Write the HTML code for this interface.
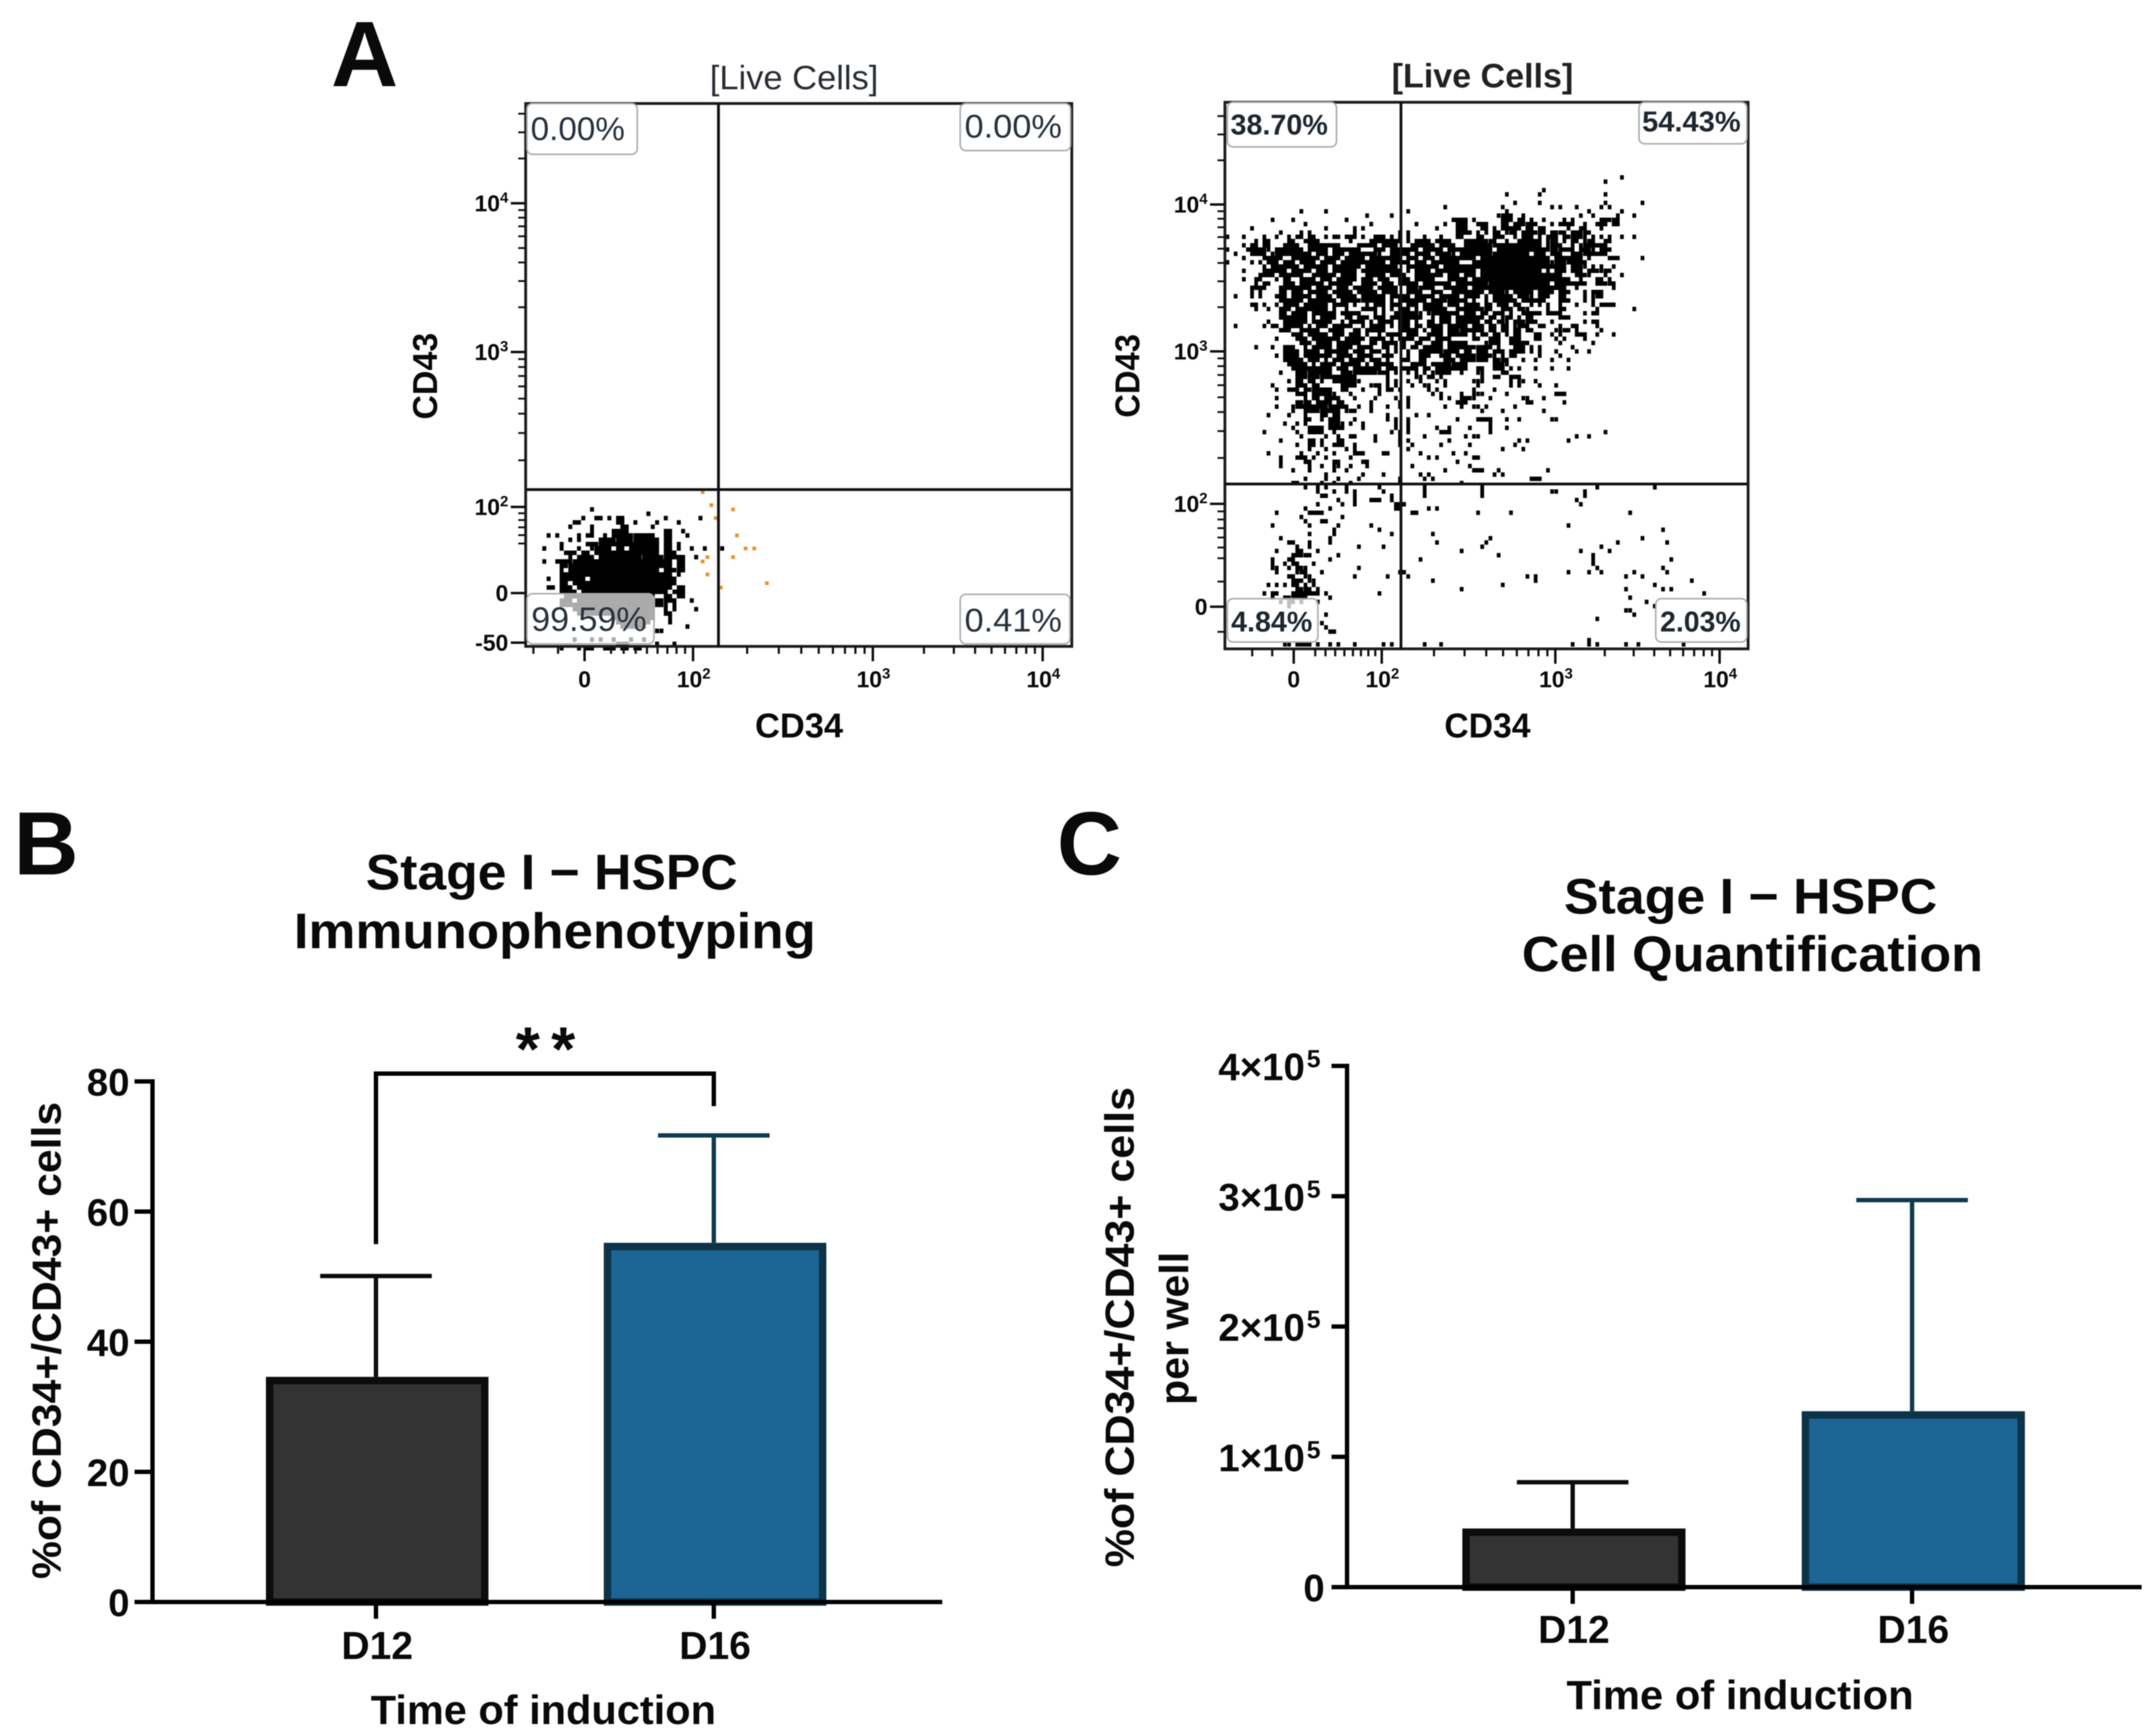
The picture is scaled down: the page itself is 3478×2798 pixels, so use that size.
<!DOCTYPE html>
<html lang="en">
<head>
<meta charset="utf-8">
<title>CD34/CD43 flow cytometry and Stage I HSPC bar charts</title>
<style>
html,body{margin:0;padding:0;background:#fff;}
svg{display:block;}
text{font-family:"Liberation Sans",Arial,sans-serif;fill:#0a0a0a;}
.b{font-weight:700;}
</style>
</head>
<body>
<svg id="figure" xmlns="http://www.w3.org/2000/svg" width="3478" height="2798" viewBox="0 0 3478 2798">
<defs><filter id="soft" x="0" y="0" width="100%" height="100%" color-interpolation-filters="sRGB"><feGaussianBlur stdDeviation="0.9"/></filter></defs>
<rect width="3478" height="2798" fill="#fff"/>
<g id="root" filter="url(#soft)">

<text class="b" x="534" y="139" font-size="150">A</text>
<text class="b" x="22" y="1411" font-size="145">B</text>
<text class="b" x="1705" y="1411" font-size="145">C</text>

<g id="flow-d12"></g>
<g id="flow-d16"></g>

<text x="1145" y="144" font-size="55" textLength="272" lengthAdjust="spacingAndGlyphs" style="fill:#2a2f36">[Live Cells]</text>
<text class="b" x="2245" y="141" font-size="55" textLength="293" lengthAdjust="spacingAndGlyphs" style="fill:#222">[Live Cells]</text>
<text class="b" transform="translate(705,677) rotate(-90)" font-size="56" textLength="140" lengthAdjust="spacingAndGlyphs">CD43</text>
<text class="b" transform="translate(1838,674) rotate(-90)" font-size="56" textLength="135" lengthAdjust="spacingAndGlyphs">CD43</text>
<text class="b" x="1218" y="1190" font-size="56" textLength="142" lengthAdjust="spacingAndGlyphs">CD34</text>
<text class="b" x="2330" y="1190" font-size="56" textLength="139" lengthAdjust="spacingAndGlyphs">CD34</text>

<g><rect x="850" y="167" width="178" height="82" rx="9" fill="#fff" stroke="#aaa" stroke-width="2.5"/><text x="856" y="226" font-size="53" textLength="152" lengthAdjust="spacingAndGlyphs" style="fill:#28323e">0.00%</text></g>
<g><rect x="1549" y="167" width="178" height="76" rx="9" fill="#fff" stroke="#aaa" stroke-width="2.5"/><text x="1556" y="222" font-size="53" textLength="157" lengthAdjust="spacingAndGlyphs" style="fill:#28323e">0.00%</text></g>
<g id="labels-late"></g>

<text class="b" x="590" y="1435" font-size="81" textLength="600" lengthAdjust="spacingAndGlyphs">Stage I − HSPC</text>
<text class="b" x="474" y="1530" font-size="81" textLength="842" lengthAdjust="spacingAndGlyphs">Immunophenotyping</text>
<text class="b" transform="translate(98,2548) rotate(-90)" font-size="66" textLength="770" lengthAdjust="spacingAndGlyphs">%of CD34+/CD43+ cells</text>
<text class="b" x="598" y="2782" font-size="66" textLength="557" lengthAdjust="spacingAndGlyphs">Time of induction</text>
<text class="b" x="832" y="1727" font-size="100" textLength="96" lengthAdjust="spacing">**</text>
<g id="chart-b"></g>

<text class="b" x="2523" y="1474" font-size="81" textLength="602" lengthAdjust="spacingAndGlyphs">Stage I − HSPC</text>
<text class="b" x="2455" y="1567" font-size="81" textLength="744" lengthAdjust="spacingAndGlyphs">Cell Quantification</text>
<text class="b" transform="translate(1829,2529) rotate(-90)" font-size="66" textLength="775" lengthAdjust="spacingAndGlyphs">%of CD34+/CD43+ cells</text>
<text class="b" transform="translate(1917,2267) rotate(-90)" font-size="66" textLength="247" lengthAdjust="spacingAndGlyphs">per well</text>
<text class="b" x="2527" y="2758" font-size="66" textLength="560" lengthAdjust="spacingAndGlyphs">Time of induction</text>
<g id="chart-c"></g>
</g>
</svg>

<script>
/* ---------- bar chart data ---------- */
const barCategories = ['D12', 'D16'];
const barBMeans = [34.6, 55.2];
const barBErrors = [15.5, 16.5];
const barBTicks = [0, 20, 40, 60, 80];
const bracketBLeftLevel = 55;
const bracketBTopLevel = 81.2;
const bracketBRightLevel = 76.2;
const barCMeans = [45000, 135000];
const barCErrors = [35500, 162000];
const barCTicks = [0, 100000, 200000, 300000, 400000];
const barCTickLabels = ['0', '1×10', '2×10', '3×10', '4×10'];

/* ---------- flow cytometry axis data ---------- */
const flowXMajor = [0, 100, 1000, 10000];
const flowXMinor = [-40, -20, 20, 30, 40, 50, 60, 70, 80, 90, 200, 300, 400, 500, 600, 700, 800, 900, 2000, 3000, 4000, 5000, 6000, 7000, 8000, 9000];
const d12YMajor = [-50, 0, 100, 1000, 10000];
const d16YMajor = [0, 100, 1000, 10000];
const d12YMinor = [50, 60, 70, 80, 90, 200, 300, 400, 500, 600, 700, 800, 900, 2000, 3000, 4000, 5000, 6000, 7000, 8000, 9000, 20000, 30000, 40000];
const d16YMinor = [-20, 20, 40, 50, 60, 70, 80, 90, 200, 300, 400, 500, 600, 700, 800, 900, 2000, 3000, 4000, 5000, 6000, 7000, 8000, 9000, 20000, 30000, 40000];

/* ---------- events: [channel level, channel or [from,to] ...] ---------- */
const d12Events = [
[32,15],[31,28],[30,13,[16,17],19,[21,22],32,40],[29,[11,12],[21,22],25,30,35],[28,10,15,[22,23],29],
[27,15,[20,23],[32,33],36],[26,5,7,12,[14,15],18,[20,24],[25,29],[32,33],37],[25,10,12,[17,20],[21,24],[25,30],[32,33]],
[24,8,[14,16],[17,30],[32,33],35],[23,4,8,12,15,[16,19],[21,22],[24,30],[32,33],35,38,41,45],[22,[9,11],[13,14],[16,30],[32,34]],
[21,10,[12,15],[17,26],[27,31],[32,36],39],[20,4,[7,10],[11,33],[35,36]],[19,[8,9],[10,33],[35,36]],[18,8,[10,30],[32,34],[35,36]],
[17,[8,33],35],[16,5,[8,13],[15,34]],[15,[8,9],[11,34]],[14,[5,6],[8,10],[12,33],[35,36]],[13,[8,11],[13,32],[34,36]],
[12,[9,29],[32,33],[35,36]],[11,[8,10],[12,29],[30,31],[32,34],38],[10,[8,29],[30,31],32,34],[9,[11,29],32,34,39],
[8,[12,29],[32,33]],[7,[20,29],33],[6,[21,28],33],[5,[22,27],37],[4,30,31],[2,11,15,17,20,24,27],[1,[21,23],30,34],
[0,8,12,[14,15],[18,20],[22,23],[25,26]]
];
const d12GateX = [40.5, 42.5, 43.5, 47.5, 48.4, 50.4, 52.4, 41.6, 40.5, 47.5, 41.6, 55.3, 44.7];
const d12GateY = [36, 33, 30, 32, 26, 23, 23, 21, 20, 21, 17, 15, 14];
const d16Events = [
[111,96],[110,92],[108,77],[107,68,76,92],[105,70,76,[81],92,101],[104,53,67,79,81,85,91,93],[103,18,24,44,68,88,96],
[102,34,40,66,[67,69],72,86,89,95,99],[101,11,16,29,[55,58],60,[67,69],[71,72],74,77,82,84,[91,93],[94,95]],
[100,19,35,46,53,[56,58],[61,63],[67,68],[70,72],[73,75],79,[81,84],87,[90,92],[94,95]],
[99,6,24,31,33,51,[56,58],[62,63],65,[67,71],[73,74],[76,77],83,[86,87],91],
[98,13,18,20,31,42,44,[56,59],61,63,[65,66],68,[69,70],[72,75],[76,77],[79,80],[81,82],[84,86],[87,88]],
[97,0,4,9,12,15,[17,18],[20,21],24,[26,27],[29,31],33,[36,38],40,42,44,48,52,[56,57],[61,62],[65,67],70,[72,74],76,[78,80],[82,83],[84,86],87,89,91,93,96,99],
[96,7,[9,10],[15,16],[19,22],30,[35,42],44,[46,49],[51,54],[58,63],[64,65],68,[71,76],78,[79,80],82,[84,85],87,[88,89],[92,93]],
[95,4,[6,7],[9,10],[14,17],[20,27],[32,36],[38,41],[45,50],[52,55],[58,64],[65,76],78,[79,81],84,86,[87,92]],
[94,0,[5,9],10,[12,18],[20,24],[26,32],[36,38],[40,46],[48,52],[54,64],[66,78],[79,80],[81,84],[86,88],89,[91,93]],
[93,2,[6,9],11,[12,20],[22,24],[26,28],[30,36],37,[40,42],[43,44],[46,49],[51,54],55,[57,64],[65,73],[75,77],[79,81],[84,86],[87,92]],
[92,4,[9,13],[16,22],[24,27],[29,33],[35,42],[44,46],[48,50],[52,60],[62,78],[80,86],88,[93,95],101],
[91,0,6,8,[10,12],[14,16],[18,21],[23,26],[28,38],[40,44],[46,48],[50,56],[60,78],79,[80,82],[83,87]],
[90,9,[11,17],[19,24],[26,32],[34,41],[44,51],[53,82],[84,86],87,89,91,94],
[89,4,[9,14],[16,20],[22,24],[26,31],[33,42],44,[46,49],[51,60],[62,76],78,[80,82],[84,86],[88,90],91,[92,93]],
[88,[8,11],[13,18],[21,26],[28,31],[34,38],[40,43],[46,52],[54,56],[58,60],[62,81],[85,87],88,92,96],
[87,4,[7,8],12,[14,15],[18,21],[23,25],[27,31],[33,35],[37,39],[42,44],[46,50],[54,58],[60,83],86,[90,91],93],
[86,7,[9,10],[14,16],[18,23],[25,30],[33,36],[38,40],[42,46],[48,54],[56,63],[64,78],[80,87],[90,92],[93,94]],
[85,[6,9],[13,20],[22,25],[27,29],[31,35],[37,41],[44,46],[47,50],[53,58],[60,82],85,94],
[84,6,8,[13,14],[16,18],[20,24],[26,30],[32,36],[38,41],[44,47],[50,52],[55,62],[64,67],68,[70,74],[76,79],[81,83],87,[89,91]],
[83,2,6,8,[12,14],[16,20],[22,25],[27,31],[33,38],[40,44],[46,50],[52,56],[58,61],63,[65,69],[71,73],74,[76,78],[81,82],87,89,[90,91]],
[82,[13,18],[20,26],[28,32],[33,38],40,[42,48],[50,53],[54,58],60,63,[65,70],[72,77],[81,83],87,89],
[81,[6,7],9,12,[14,17],[19,24],[26,29],31,34,[36,38],[40,42],[44,46],[48,52],[54,56],[58,61],[63,64],[66,68],[70,71],74,76,78,81,85,89,[91,94]],
[80,7,10,[13,15],[17,24],26,29,[33,36],38,40,[42,44],46,[48,53],[56,62],[63,64],[67,69],[71,72],73,78,[81,82],90,99],
[79,[13,14],[16,19],[21,26],[28,32],36,38,[41,46],47,49,[50,56],[58,60],[62,63],[65,67],69,[72,76],[78,81],87,[89,90]],
[78,[13,19],21,[23,26],[29,30],[32,34],[36,38],[40,42],[43,47],50,[52,54],[56,62],[64,65],67,[68,69],71,[73,74],[81,83]],
[77,10,[14,19],[21,25],28,[30,33],35,[37,40],[42,44],46,[49,50],[52,54],[56,61],[63,64],[66,67],68,[70,72],[73,75],79,87,[89,90]],
[76,2,9,[11,12],[14,18],20,[22,24],[26,30],33,[35,38],40,[42,44],[46,47],[49,52],[54,58],[60,62],[64,65],[67,68],70,[71,73],[76,77],81,[84,85],90],
[75,[13,15],[18,22],[25,28],[31,32],[34,38],[42,46],48,[50,52],[54,56],[57,62],[64,65],[67,68],[70,71],[73,74],80,81,[82,83],85,91],
[74,[16,18],[20,24],[26,28],[30,32],34,37,[39,42],[44,46],[49,52],[54,58],60,[62,63],[65,66],68,[70,71],[75,76],79,81,[85,87],90,94],
[73,12,[17,19],[21,27],[29,33],[35,38],40,[42,45],[47,49],[51,54],[60,61],[64,66],[69,71],[75,76],80,82,87],
[72,[18,20],[22,25],[27,32],[35,36],[38,41],43,[46,47],[50,52],[54,58],63,[64,66],[69,73],81,89],
[71,7,11,[14,16],19,[21,25],[27,30],[32,35],[38,39],41,43,[45,46],[48,52],[54,60],[61,64],66,[70,72],74,76,84],
[70,[14,17],[19,22],[24,29],[31,33],[35,37],39,41,44,[47,52],[53,56],[58,59],[61,63],[65,67],[69,72],74,76,80,85,88],
[69,12,[14,17],[19,25],[27,30],[32,35],[38,40],44,[47,49],[52,54],[56,60],[61,64],65,67,[69,70],76,81],
[68,[14,18],[20,22],24,[26,28],[30,33],[35,37],39,[43,44],[47,48],[53,55],[57,60],[61,63],[65,66],[67,68],72,75,79,83],
[67,[15,19],21,[23,26],[28,32],34,[36,40],[45,48],[50,54],[55,58],[65,67],68],
[66,[16,25],[27,29],[31,37],[39,41],[43,46],[48,49],[51,58],[61,62],[65,67],69,71,75,79,83],
[65,13,[17,19],[20,25],[28,30],[31,36],[37,39],41,44,46,48,50,[51,54],57,61,62,[67,68]],
[64,[17,19],[20,22],[23,31],39,46,47,[49,50],52,62,[65,66],[69,71]],
[63,15,[17,18],[20,21],23,[26,31],32,39,41,44,47,51,53,60,61,62,69,71,72,75],
[62,11,[17,19],[21,22],[28,31],35,[36,37],39,41,45,48,49,53,61,69,71,76,80],
[61,12,[15,17],[19,20],[21,25],[28,29],33,37,[39,40],42,49,51,60,65],
[60,[17,19],[21,25],26,30,37,50,52,57,60,61,62,68,[80,82]],
[59,12,19,[21,22],[24,27],31,36,41,44,44,52,54,[57,59],60,64,72,73,77],
[58,[17,18],[19,20],[22,25],[27,28],35,42,44,[56,58],[73,74],82],
[57,12,16,[17,24],[25,29],32,35,39,42,44,53,57,61,60,63,70],
[56,16,[19,22],[23,27],29,[30,31],35,62,67,77],
[55,10,15,19,[23,24],[26,27],39,46,49],
[54,[19,20],23,[25,27],31,39,41,44,56,[62,64],[61,64],68,71,79,80],
[53,14,17,19,[25,27],28,30,33,41,44,64],
[52,16,[20,23],[25,28],33,41,44,51,54,59,64,68],
[51,9,17,[20,23],26,40,42,44,[52,54],64,92],
[50,18,24,27,[30,31],36,42,48,58,61,60,85,88],
[49,13,[20,21],23,[27,28],36,42,44,54,71,73,83],
[48,17,[20,21],23,[26,28],31,42,45,52,59,70],
[47,20,24,29,31,44,67,72],
[46,10,18,22,26,[31,33],[38,39],47,55,58],
[45,13,[17,19],21,24,30,49,51,[60,61]],
[44,13,[19,20],[26,27],[33,34],56],
[43,13,20,23,26,27,30,34,45,59],
[42,16,20,26,29,53,[60,62],66,78],
[41,24,33,38,47,49,65,67],
[40,19,24,27,32,42,48,50,[74,76]],
[39,[16,17],23,26,30,42,57],
[38,19,22,24,29,37,48,62,90,104],
[37,22,26,29,31,38,48,62,79,87,80],
[36,[23,24],31,40,48,62,87],
[35,27,31,[35,37],40,85],
[34,22,28,31,[41,42],43,86],
[33,19,25,[41,42],49,51],
[32,12,[20,23],[45,46],61,69,98],
[31,18,28],
[30,19,[23,24]],
[29,11,20,27,35,83],
[28,26,37,106],
[27,20,26,40,50],
[26,13,25,64,101],
[25,[15,16],20,25,51,63,95,107],
[24,17,20,32,38,62,91],
[23,12,[17,18],22,57,86,93],
[22,[16,18],[19,20],27,66,89],
[21,11,[15,16],25,47,89,108],
[20,11,14,[16,17],21,89],
[19,11,12,15,[17,18],19,32,90,106],
[18,12,17,[18,19],23,[42,43],83,88,91,99,107],
[17,[15,16],19,20,31,39,44,73,75,97,101],
[16,[16,18],20,21,50,75,113],
[15,10,12,14,[16,17],19,21,67,104],
[14,[17,18],[19,20],22,57,97,106,108],
[13,9,[11,12],[16,22],24,37,116],
[12,11,[14,15],[16,19],25,98],
[11,13,[15,16],18,22,102],
[10,15,104],
[9,97,98],
[8,24,99],
[7,90],
[6,23],
[5,24],
[4,[25,26]],
[2,88],
[1,14,15,[17,20],22,25,27,31,38,40,48,52,84,88,90,97,100,111]
];

/* ---------- helpers ---------- */
const SVGNS = 'http://www.w3.org/2000/svg';
function mk(tag, attrs, parent) {
  const el = document.createElementNS(SVGNS, tag);
  for (const k in attrs) el.setAttribute(k, attrs[k]);
  parent.appendChild(el);
  return el;
}
function biex(v, p) {
  if (v < 100) return p.zero + (p.hundred - p.zero) * Math.asinh(v / 70) / Math.asinh(100 / 70);
  if (v <= 1000) return p.hundred + (p.thousand - p.hundred) * (Math.log10(v) - 2);
  return p.thousand + (p.tenK - p.thousand) * (Math.log10(v) - 3);
}
function tickLabel(v) {
  if (v >= 100) return {base: '10', sup: String(Math.round(Math.log10(v)))};
  return {base: String(v), sup: ''};
}

/* ---------- flow plots ---------- */
function drawFlow(c) {
  const g = document.getElementById(c.id);
  const xs = v => biex(v, c.xp);
  const ys = v => biex(v, c.yp);
  const chX = ch => c.chX0 + ch * c.chDX;
  const chY = ch => c.chY0 - ch * c.chDY;

  c.events.forEach(row => {
    const level = row[0];
    row.slice(1).forEach(cell => {
      const from = Array.isArray(cell) ? cell[0] : cell;
      const to = Array.isArray(cell) ? cell[1] : cell;
      const r = mk('rect', {x: chX(from) - c.chDX / 2 + 0.3, y: chY(level) - c.chDY / 2 - 0.15,
        width: (to - from + 1) * c.chDX - 0.6, height: c.chDY + 0.3, fill: '#000'}, g);
      
      
    });
  });
  if (c.gateX) {
    c.gateX.forEach((gx, i) => {
      const r = mk('rect', {x: chX(gx) - 3, y: chY(c.gateY[i]) - 3, width: 6, height: 6, fill: '#e3952f'}, g);
      
      
    });
  }

  const frame = mk('rect', {x: c.left, y: c.top, width: c.right - c.left, height: c.bottom - c.top,
    fill: 'none', stroke: '#1c1c1c', 'stroke-width': 4.5}, g);
  
  

  const vq = mk('line', {x1: c.qx, x2: c.qx, y1: c.top, y2: c.bottom, stroke: '#111', 'stroke-width': 4.5}, g);
  
  
  const hq = mk('line', {x1: c.left, x2: c.right, y1: c.qy, y2: c.qy, stroke: '#111', 'stroke-width': 4.5}, g);
  
  

  c.xMinor.forEach(v => {
    const t = mk('line', {x1: xs(v), x2: xs(v), y1: c.bottom, y2: c.bottom + 12, stroke: '#111', 'stroke-width': 3.5}, g);
    
    
  });
  c.yMinor.forEach(v => {
    const t = mk('line', {x1: c.left - 12, x2: c.left, y1: ys(v), y2: ys(v), stroke: '#111', 'stroke-width': 3}, g);
    
    
  });
  c.xMajor.forEach(v => {
    const t = mk('line', {x1: xs(v), x2: xs(v), y1: c.bottom, y2: c.bottom + 24, stroke: '#111', 'stroke-width': 4}, g);
    
    
    const l = tickLabel(v);
    const tx = mk('text', {x: xs(v) + (l.sup ? 1 : 0), y: c.xLabelY, 'font-size': 37, 'font-weight': 700, 'text-anchor': 'middle'}, g);
    
    
    tx.appendChild(document.createTextNode(l.base));
    if (l.sup) {
      const s = mk('tspan', {dy: -14, 'font-size': 24}, tx);
      s.textContent = l.sup;
    }
  });
  c.yMajor.forEach(v => {
    const t = mk('line', {x1: c.left - 24, x2: c.left, y1: ys(v), y2: ys(v), stroke: '#111', 'stroke-width': 4}, g);
    
    
    const l = tickLabel(v);
    const tx = mk('text', {x: c.left - 28, y: ys(v) + 13, 'font-size': 37, 'font-weight': 700, 'text-anchor': 'end'}, g);
    
    
    tx.appendChild(document.createTextNode(l.base));
    if (l.sup) {
      const s = mk('tspan', {dy: -14, 'font-size': 24}, tx);
      s.textContent = l.sup;
    }
  });
}

drawFlow({id: 'flow-d12', left: 848, right: 1729, top: 167, bottom: 1043, qx: 1159, qy: 790,
  xp: {zero: 943, hundred: 1118, thousand: 1408, tenK: 1682},
  yp: {zero: 957, hundred: 818, thousand: 568, tenK: 328},
  chX0: 850, chDX: 7, chY0: 1046, chDY: 7, xLabelY: 1109,
  xMajor: flowXMajor, xMinor: flowXMinor, yMajor: d12YMajor, yMinor: d12YMinor,
  events: d12Events, gateX: d12GateX, gateY: d12GateY});

drawFlow({id: 'flow-d16', left: 1976, right: 2820, top: 165, bottom: 1047, qx: 2260, qy: 781,
  xp: {zero: 2087, hundred: 2229, thousand: 2509, tenK: 2774},
  yp: {zero: 979, hundred: 813, thousand: 567, tenK: 330},
  chX0: 1980, chDX: 6.63, chY0: 1046.6, chDY: 6.85, xLabelY: 1109,
  xMajor: flowXMajor, xMinor: flowXMinor, yMajor: d16YMajor, yMinor: d16YMinor,
  events: d16Events});

/* gate labels over the dots */
const overlay = document.getElementById('labels-late');
overlay.innerHTML =
 '<g><rect x="850" y="958" width="205" height="81" rx="9" fill="#fff" fill-opacity="0.67" stroke="#aaa" stroke-width="2.5"/><text x="857" y="1018" font-size="55" textLength="186" lengthAdjust="spacingAndGlyphs" style="fill:#28323e">99.59%</text></g>' +
 '<g><rect x="1549" y="959" width="177" height="80" rx="9" fill="#fff" fill-opacity="0.67" stroke="#aaa" stroke-width="2.5"/><text x="1556" y="1019" font-size="53" textLength="157" lengthAdjust="spacingAndGlyphs" style="fill:#28323e">0.41%</text></g>' +
 '<g><rect x="1980" y="165" width="176" height="72" rx="9" fill="#fff" stroke="#aaa" stroke-width="2.5"/><text class="b" x="1985" y="217" font-size="46" textLength="157" lengthAdjust="spacingAndGlyphs" style="fill:#1f2730">38.70%</text></g>' +
 '<g><rect x="2644" y="165" width="174" height="67" rx="9" fill="#fff" stroke="#aaa" stroke-width="2.5"/><text class="b" x="2649" y="212" font-size="46" textLength="159" lengthAdjust="spacingAndGlyphs" style="fill:#1f2730">54.43%</text></g>' +
 '<g><rect x="1980" y="966" width="146" height="70" rx="9" fill="#fff" fill-opacity="0.75" stroke="#aaa" stroke-width="2.5"/><text class="b" x="1986" y="1019" font-size="46" textLength="131" lengthAdjust="spacingAndGlyphs" style="fill:#1f2730">4.84%</text></g>' +
 '<g><rect x="2671" y="966" width="147" height="70" rx="9" fill="#fff" fill-opacity="0.75" stroke="#aaa" stroke-width="2.5"/><text class="b" x="2678" y="1019" font-size="46" textLength="130" lengthAdjust="spacingAndGlyphs" style="fill:#1f2730">2.03%</text></g>';

/* ---------- bar charts ---------- */
const fills = ['#333333', '#1c6494'];
const strokes = ['#0c0c0c', '#0c3348'];
const errColors = ['#0c0c0c', '#0f3a4f'];

function drawBars(c) {
  const g = document.getElementById(c.id);
  const y = v => c.y0 + (c.yTop - c.y0) * (v / c.max);
  const x = i => c.x0 + i * c.step;

  c.means.forEach((m, i) => {
    const errV = mk('line', {x1: x(i) - 2, x2: x(i) - 2, y1: y(m), y2: y(m + c.errors[i]), stroke: errColors[i], 'stroke-width': 7}, g);
    
    
    const cap = mk('line', {x1: x(i) - 2 - c.capW / 2, x2: x(i) - 2 + c.capW / 2, y1: y(m + c.errors[i]), y2: y(m + c.errors[i]), stroke: errColors[i], 'stroke-width': 7}, g);
    
    
    const bar = mk('rect', {x: x(i) - c.barW / 2 + 6, y: y(m) + 6, width: c.barW - 12, height: c.y0 - y(m) - 6, fill: fills[i], stroke: strokes[i], 'stroke-width': 12}, g);
    
    
  });

  const ya = mk('line', {x1: c.axisX, x2: c.axisX, y1: c.yTop - 3.5, y2: c.y0 + 3.5, stroke: '#000', 'stroke-width': 7}, g);
  
  
  const xa = mk('line', {x1: c.axisX - c.tickLen, x2: c.xEnd, y1: c.y0, y2: c.y0, stroke: '#000', 'stroke-width': 7}, g);
  
  

  c.ticks.forEach((v, i) => {
    if (v !== 0) {
      const t = mk('line', {x1: c.axisX - c.tickLen, x2: c.axisX, y1: y(v), y2: y(v), stroke: '#000', 'stroke-width': 7}, g);
      
      
    }
    const lb = c.tickLabels ? c.tickLabels[i] : String(v);
    const hasSup = c.tickLabels && v !== 0;
    const tx = mk('text', {x: c.labelX - (hasSup ? 32 : 0), y: y(v) + 23, 'font-size': 62, 'font-weight': 700, 'text-anchor': 'end'}, g);
    
    
    tx.textContent = lb;
    if (hasSup) {
      const s = mk('text', {x: c.labelX - 29, y: y(v) + 2, 'font-size': 40, 'font-weight': 700}, g);
      
      
      s.textContent = '5';
    }
  });

  barCategories.forEach((name, i) => {
    const t = mk('line', {x1: x(i) - 2, x2: x(i) - 2, y1: c.y0, y2: c.y0 + 27, stroke: '#000', 'stroke-width': 7}, g);
    
    
    const tx = mk('text', {x: x(i), y: c.catY, 'font-size': 63, 'font-weight': 700, 'text-anchor': 'middle'}, g);
    
    
    tx.textContent = name;
  });

  if (c.bracket) {
    const b = mk('polyline', {points: (x(0) - 2) + ',' + y(c.bracket[0]) + ' ' + (x(0) - 2) + ',' + y(c.bracket[1]) + ' ' + (x(1) - 2) + ',' + y(c.bracket[1]) + ' ' + (x(1) - 2) + ',' + y(c.bracket[2]),
      fill: 'none', stroke: '#000', 'stroke-width': 7}, g);
    
    
  }
}

drawBars({id: 'chart-b', y0: 2585, yTop: 1745, max: 80, x0: 608.5, step: 545, barW: 359, capW: 180,
  axisX: 246, tickLen: 29, xEnd: 1520, labelX: 209, catY: 2677,
  means: barBMeans, errors: barBErrors, ticks: barBTicks,
  bracket: [bracketBLeftLevel, bracketBTopLevel, bracketBRightLevel]});

drawBars({id: 'chart-c', y0: 2561, yTop: 1720, max: 400000, x0: 2539, step: 547.5, barW: 360, capW: 180,
  axisX: 2173, tickLen: 25, xEnd: 3455, labelX: 2137, catY: 2651,
  means: barCMeans, errors: barCErrors, ticks: barCTicks, tickLabels: barCTickLabels});
</script>
</body>
</html>
